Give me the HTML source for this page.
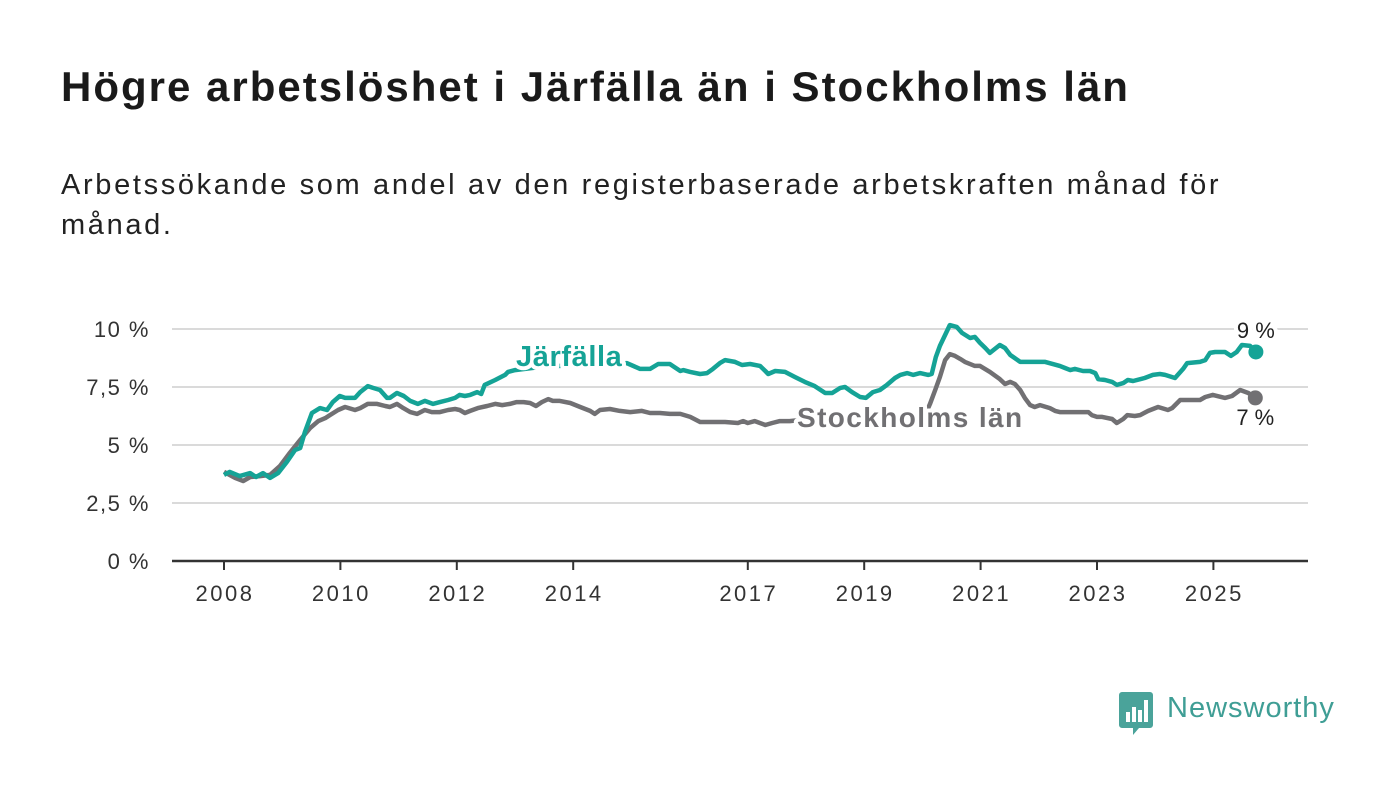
<!DOCTYPE html>
<html><head><meta charset="utf-8"><style>
body{margin:0;width:1400px;height:794px;background:#fff;font-family:"Liberation Sans",sans-serif;overflow:hidden;position:relative}
h1{position:absolute;left:61px;top:63px;margin:0;font-size:42px;letter-spacing:2px;font-weight:bold;color:#1a1a1a;white-space:nowrap}
.sub{position:absolute;left:61px;top:165px;margin:0;font-size:29px;letter-spacing:2.65px;line-height:40px;color:#222;width:1200px}
svg{position:absolute;left:0;top:0}
</style></head><body>
<h1>Högre arbetslöshet i Järfälla än i Stockholms län</h1>
<p class="sub">Arbetssökande som andel av den registerbaserade arbetskraften månad för månad.</p>
<svg id="chart" width="1400" height="794"></svg>
<div style="position:absolute;left:1119px;top:692px;">
<svg width="36" height="44" style="position:static"><path d="M3 0h28a3 3 0 0 1 3 3v30a3 3 0 0 1-3 3H20l-6 7v-7H3a3 3 0 0 1-3-3V3a3 3 0 0 1 3-3z" fill="#4aa39a"/><rect x="7" y="20" width="4" height="10" fill="#fff"/><rect x="13" y="15" width="4" height="15" fill="#fff"/><rect x="19" y="18" width="4" height="12" fill="#fff"/><rect x="25" y="8" width="4" height="22" fill="#fff"/></svg>
<span style="position:absolute;left:48px;top:0px;font-size:29px;letter-spacing:1px;color:#3f9e95;white-space:nowrap">Newsworthy</span></div>
<script>
const yTicks=[0,2.5,5,7.5,10];
const yTickLabels=["0 %","2,5 %","5 %","7,5 %","10 %"];
const xTicks=[2008,2010,2012,2014,2017,2019,2021,2023,2025];
const jarfallaDates=[2008.00,2008.10,2008.27,2008.45,2008.55,2008.67,2008.79,2008.93,2009.08,2009.22,2009.31,2009.39,2009.51,2009.65,2009.77,2009.87,2009.99,2010.08,2010.25,2010.34,2010.47,2010.56,2010.68,2010.80,2010.85,2010.97,2011.09,2011.20,2011.33,2011.45,2011.59,2011.71,2011.85,2011.97,2012.05,2012.14,2012.23,2012.35,2012.42,2012.48,2012.66,2012.83,2012.88,2013.00,2013.43,2013.77,2014.12,2014.46,2014.72,2014.92,2015.15,2015.32,2015.46,2015.66,2015.84,2015.89,2016.01,2016.18,2016.30,2016.40,2016.52,2016.61,2016.78,2016.90,2017.04,2017.21,2017.30,2017.35,2017.47,2017.64,2017.81,2017.98,2018.15,2018.33,2018.45,2018.59,2018.67,2018.79,2018.93,2019.03,2019.15,2019.27,2019.39,2019.53,2019.62,2019.74,2019.84,2019.96,2020.10,2020.16,2020.23,2020.30,2020.39,2020.47,2020.59,2020.68,2020.82,2020.90,2020.99,2021.08,2021.16,2021.33,2021.42,2021.51,2021.68,2021.85,2022.11,2022.36,2022.45,2022.54,2022.62,2022.76,2022.88,2022.97,2023.02,2023.14,2023.26,2023.34,2023.45,2023.53,2023.62,2023.82,2023.96,2024.08,2024.17,2024.34,2024.48,2024.55,2024.77,2024.86,2024.94,2025.03,2025.20,2025.30,2025.40,2025.49,2025.63,2025.73];
const jarfallaValues=[3.71,3.84,3.66,3.79,3.62,3.79,3.58,3.79,4.27,4.78,4.87,5.56,6.38,6.59,6.51,6.85,7.11,7.03,7.03,7.28,7.54,7.46,7.37,7.03,7.03,7.24,7.11,6.90,6.77,6.90,6.77,6.85,6.94,7.03,7.16,7.11,7.16,7.28,7.20,7.59,7.80,8.02,8.15,8.23,8.36,8.41,8.45,8.49,8.49,8.53,8.28,8.28,8.49,8.49,8.19,8.23,8.15,8.06,8.10,8.28,8.53,8.66,8.58,8.45,8.49,8.41,8.19,8.06,8.19,8.15,7.93,7.72,7.54,7.24,7.24,7.46,7.50,7.28,7.07,7.03,7.28,7.37,7.59,7.89,8.02,8.10,8.02,8.10,8.02,8.06,8.79,9.27,9.74,10.17,10.09,9.83,9.61,9.66,9.40,9.18,8.97,9.31,9.18,8.88,8.58,8.58,8.58,8.41,8.32,8.23,8.28,8.19,8.19,8.10,7.84,7.80,7.72,7.59,7.67,7.80,7.76,7.89,8.02,8.06,8.02,7.89,8.28,8.53,8.58,8.66,8.97,9.01,9.01,8.84,9.01,9.31,9.27,9.01];
const sthlmDates=[2008.00,2008.19,2008.33,2008.45,2008.62,2008.79,2008.96,2009.13,2009.31,2009.48,2009.62,2009.74,2009.82,2009.96,2010.08,2010.25,2010.34,2010.47,2010.63,2010.77,2010.85,2010.97,2011.08,2011.20,2011.32,2011.45,2011.57,2011.71,2011.85,2011.97,2012.05,2012.14,2012.23,2012.36,2012.52,2012.66,2012.78,2012.91,2013.03,2013.15,2013.26,2013.36,2013.46,2013.57,2013.65,2013.77,2013.95,2014.12,2014.29,2014.37,2014.46,2014.63,2014.80,2014.98,2015.18,2015.32,2015.49,2015.66,2015.84,2016.01,2016.18,2016.35,2016.61,2016.83,2016.92,2017.00,2017.12,2017.30,2017.42,2017.55,2017.72,2018.07,2018.41,2018.76,2019.10,2019.44,2019.79,2020.04,2020.13,2020.22,2020.30,2020.39,2020.47,2020.56,2020.65,2020.73,2020.90,2020.99,2021.16,2021.33,2021.42,2021.51,2021.59,2021.68,2021.76,2021.85,2021.93,2022.02,2022.19,2022.28,2022.36,2022.45,2022.71,2022.85,2022.91,2023.00,2023.09,2023.26,2023.34,2023.45,2023.52,2023.65,2023.74,2023.88,2024.05,2024.22,2024.29,2024.43,2024.60,2024.77,2024.86,2024.99,2025.20,2025.32,2025.46,2025.60,2025.72];
const sthlmValues=[3.84,3.58,3.45,3.62,3.66,3.71,4.09,4.66,5.22,5.73,6.03,6.16,6.29,6.51,6.64,6.51,6.59,6.77,6.77,6.68,6.64,6.77,6.59,6.42,6.34,6.51,6.42,6.42,6.51,6.55,6.51,6.38,6.47,6.59,6.68,6.77,6.72,6.77,6.85,6.85,6.81,6.68,6.85,6.98,6.90,6.90,6.81,6.64,6.47,6.34,6.51,6.55,6.47,6.42,6.47,6.38,6.38,6.34,6.34,6.21,5.99,5.99,5.99,5.95,6.03,5.95,6.03,5.86,5.95,6.03,6.03,6.12,6.16,6.20,6.16,6.16,6.20,6.25,6.77,7.37,7.93,8.66,8.92,8.84,8.71,8.58,8.41,8.41,8.15,7.84,7.63,7.72,7.63,7.37,7.03,6.72,6.64,6.72,6.59,6.47,6.42,6.42,6.42,6.42,6.29,6.21,6.21,6.12,5.95,6.12,6.29,6.25,6.29,6.47,6.64,6.51,6.59,6.94,6.94,6.94,7.07,7.16,7.03,7.11,7.37,7.24,7.03];
const NS="http://www.w3.org/2000/svg";
const svg=document.getElementById('chart');
const X=y=>224+(y-2008)*58.2;
const Y=v=>561-v*23.2;
function el(t,a,txt){const e=document.createElementNS(NS,t);for(const k in a)e.setAttribute(k,a[k]);if(txt!==undefined)e.textContent=txt;svg.appendChild(e);return e;}
yTicks.forEach((v,i)=>{
 if(v>0){const g=el('line',{x1:172,x2:1308,y1:Y(v),y2:Y(v),stroke:'#dadada','stroke-width':2});
 
 }
 const t=el('text',{x:150,y:Y(v)+8,'text-anchor':'end','font-size':22,'letter-spacing':1.5,fill:'#333'},yTickLabels[i]);
 
 
});
const ax=el('line',{x1:172,x2:1308,y1:561,y2:561,stroke:'#333','stroke-width':2.5});


xTicks.forEach(yr=>{
 const tk=el('line',{x1:X(yr),x2:X(yr),y1:561,y2:570,stroke:'#333','stroke-width':2});
 
 
 const t=el('text',{x:X(yr)+1,y:601,'text-anchor':'middle','font-size':22,'letter-spacing':2.5,fill:'#333'},yr);
 
 
});
function line(d,v,c,name){
 const p=el('path',{d:d.map((x,i)=>(i?'L':'M')+X(x).toFixed(1)+' '+Y(v[i]).toFixed(1)).join(''),fill:'none',stroke:c,'stroke-width':4.5,'stroke-linejoin':'round'});
 
 
 const n=d.length-1;
 const c2=el('circle',{cx:X(d[n]),cy:Y(v[n]),r:7.5,fill:c});
 
 
}
line(sthlmDates,sthlmValues,'#717073','stockholm-line');
line(jarfallaDates,jarfallaValues,'#15a396','jarfalla-line');
const halo={stroke:'#fff','stroke-width':8,'paint-order':'stroke','stroke-linejoin':'round'};
const l1=el('text',Object.assign({x:516,y:366,'font-size':29,'letter-spacing':0.6,'font-weight':'bold',fill:'#15a396'},halo),'Järfälla');


const l2=el('text',Object.assign({x:797,y:427,'font-size':28,'letter-spacing':1.4,'font-weight':'bold',fill:'#717073'},halo),'Stockholms län');


const n1=jarfallaDates.length-1, n2=sthlmDates.length-1;
const e1=el('text',Object.assign({x:X(jarfallaDates[n1]),y:Y(jarfallaValues[n1])-14,'text-anchor':'middle','font-size':22,fill:'#222'},halo),'9 %');


const e2=el('text',Object.assign({x:X(sthlmDates[n2]),y:Y(sthlmValues[n2])+27,'text-anchor':'middle','font-size':22,fill:'#222'},halo),'7 %');


</script>
</body></html>
